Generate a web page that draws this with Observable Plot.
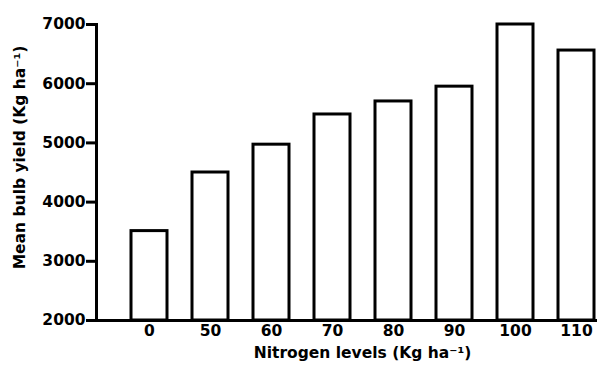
<!DOCTYPE html>
<html>
<head>
<meta charset="utf-8">
<script src="https://cdn.jsdelivr.net/npm/d3@7"></script>
<script src="https://cdn.jsdelivr.net/npm/@observablehq/plot@0.6"></script>
<style>
  html, body { margin: 0; padding: 0; background: #fff; }
</style>
</head>
<body>
<div id="chart"></div>
<script>
const nitrogenLevels = ["0", "50", "60", "70", "80", "90", "100", "110"];
const meanYield = [3510, 4500, 4970, 5480, 5700, 5950, 7000, 6560];
const yTicks = [2000, 3000, 4000, 5000, 6000, 7000];
const xTitle = "Nitrogen levels (Kg ha\u207B\u00B9)";
const yTitle = "Mean bulb yield (Kg ha\u207B\u00B9)";

const data = nitrogenLevels.map((n, i) => ({n, y: meanYield[i]}));

const chart = Plot.plot({
  width: 598,
  height: 365,
  marginTop: 24,
  marginBottom: 45,
  marginLeft: 96,
  marginRight: 1,
  style: {fontFamily: "DejaVu Sans", fontWeight: "bold", fontSize: "15.5px", color: "#000", background: "#fff"},
  x: {domain: nitrogenLevels, range: [130.5, 593.5], paddingInner: 0.41, paddingOuter: 0, label: null},
  y: {domain: [2000, 7000], label: null},
  marks: [
    Plot.barY(data, {x: "n", y1: 2000, y2: "y", fill: "white", stroke: "black", strokeWidth: 3}),
    Plot.ruleY([2000], {stroke: "black", strokeWidth: 3}),
    Plot.frame({anchor: "left", stroke: "black", strokeWidth: 3}),
    Plot.axisY({ticks: yTicks, tickSize: 10, tickPadding: 1, strokeWidth: 3, label: null, tickFormat: d => String(d)}),
    Plot.axisX({tickSize: 0, tickPadding: 4, label: null}),
    Plot.text([xTitle], {text: d => d, frameAnchor: "bottom", textAnchor: "middle", lineAnchor: "middle", dx: 15.5, dy: 33}),
    Plot.text([yTitle], {text: d => d, frameAnchor: "left", textAnchor: "middle", lineAnchor: "middle", rotate: -90, dx: -76, dy: -15})
  ]
});
document.getElementById("chart").appendChild(chart);
</script>
</body>
</html>
